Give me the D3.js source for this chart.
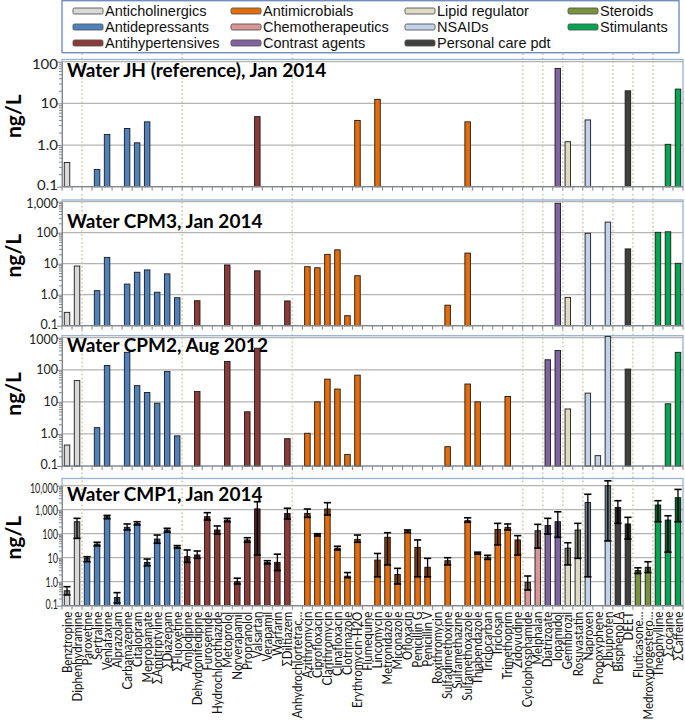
<!DOCTYPE html>
<html>
<head>
<meta charset="utf-8">
<script src="https://cdn.jsdelivr.net/npm/d3@7"></script>
<style>
  body { margin: 0; background: #fff; }
  svg { display: block; }
  .legend-text { font-family: "Liberation Sans", Arial, sans-serif; font-size: 14.5px; fill: #111; }
  .title { font-family: Lato, "Open Sans", sans-serif; font-weight: 700; font-size: 19px; fill: #000; }
  .ylabel { font-family: Lato, "Open Sans", sans-serif; font-weight: 700; font-size: 21px; fill: #000; }
  .tick-label { font-family: Lato, "Open Sans", sans-serif; font-size: 12.5px; fill: #222; }
  .x-label { font-family: Lato, "Open Sans", sans-serif; font-size: 12.5px; fill: #111; }
</style>
</head>
<body>
<svg width="685" height="721"></svg>
<script>
const compounds = ['Benztropine', 'Diphenhydramine', 'Paroxetine', 'Sertraline', 'Venlafaxine',
  'Alprazolam', 'Carbamazepine', 'Citalopram', 'Meprobamate', 'ΣAmitriptyline', 'ΣDiazepam',
  'ΣFluoxetine', 'Amlodipine', 'Dehydronifedipine', 'Furosemide', 'Hydrochlorothiazide',
  'Metoprolol', 'Norverapamil', 'Propranolol', 'Valsartan', 'Verapamil', 'Warfarin', 'ΣDiltiazem',
  'Anhydrochlortetrac…', 'Azithromycin', 'Ciprofloxacin', 'Clarithromycin', 'Clinafloxacin',
  'Clotrimazole', 'Erythromycin-H2O', 'Flumequine', 'Lincomycin', 'Metronidazole', 'Miconazole',
  'Ofloxacin', 'Penicillin G', 'Penicillin V', 'Roxithromycin', 'Sulfadimethoxine',
  'Sulfamethazine', 'Sulfamethoxazole', 'Thiabendazole', 'Triclocarban', 'Triclosan',
  'Trimethoprim', 'Zidovudine', 'Cyclophosphamide', 'Melphalan', 'Diatrizoate', 'Iopamidol',
  'Gemfibrozil', 'Rosuvastatin', 'Naproxen', 'Propoxyphene', 'ΣIbuprofen', 'Bisphenol A', 'DEET',
  'Fluticasone…', 'Medroxyprogestero…', 'Theophylline', 'Σcocaine', 'ΣCaffeine'];

const classNames = ['Anticholinergics', 'Antidepressants', 'Antihypertensives', 'Antimicrobials',
  'Chemotherapeutics', 'Contrast agents', 'Lipid regulator', 'NSAIDs', 'Personal care pdt',
  'Steroids', 'Stimulants'];
const classSizes = [2, 10, 11, 23, 2, 2, 2, 3, 2, 2, 3];
const classColors = ['#d9d9d9', '#4f81bd', '#8c3a37', '#e46c0a', '#d99694', '#8064a2',
  '#ddd9c3', '#c0d3ea', '#3f3f3f', '#77933c', '#00a650'];

// ng/L, one entry per compound, null = not detected
const jhValues = [
  0.38, null,
  null, 0.26, 1.8, null, 2.5, 1.13, 3.6, null, null, null,
  null, null, null, null, null, null, null, 4.8, null, null, null,
  null, null, null, null, null, null, 3.9, null, 12.5, null, null, null, null, null, null, null, null,
  3.6, null, null, null, null, null,
  null, null,
  null, 69,
  1.2, null,
  4.0, null, null,
  null, 20,
  null, null,
  null, 1.04, 22];

const cpm3Values = [
  0.27, 8.4,
  null, 1.35, 16, null, 2.2, 5.3, 6.3, 1.2, 4.7, 0.8,
  null, 0.64, null, null, 9.1, null, null, 5.9, null, null, 0.63,
  null, 8.0, 7.4, 20, 28, 0.21, 4.1, null, null, null, null, null, null, null, null,
  0.46, null, 22, null, null, null, null, null,
  null, null,
  null, 890,
  0.82, null,
  96, null, 220,
  null, 30,
  null, null,
  103, 107, 10.3];

const cpm2Values = [
  0.45, 46,
  null, 1.57, 136, null, 350, 32, 19.5, 9.1, 89, 0.87,
  null, 21, null, null, 182, null, 4.9, 470, null, null, 0.71,
  null, 1.05, 10, 51, 25, 0.23, 68, null, null, null, null, null, null, null, null,
  0.4, null, 36, 10, null, null, 14.7, null,
  null, null,
  205, 400,
  6.0, null,
  18.7, 0.21, 1100,
  null, 105,
  null, null,
  null, 8.7, 350];

const cmp1Values = [
  0.42, 316,
  9.4, 37, 510, 0.22, 185, 270, 6.4, 60, 143, 28,
  11, 13, 510, 143, 370, 1.0, 55, 1080, 6.4, 6.4, 700,
  null, 700, 94, 1070, 25, 1.7, 58, null, 8, 71, 2.0, 133, 27, 4.0, null,
  7.5, null, 350, 16, 10.5, 150, 185, 55,
  0.94, 133,
  220, 316,
  25, 143,
  2000, null, 10000,
  1250, 254,
  2.9, 4.0,
  1570, 370, 3160];

const cmp1Low = [
  0.28, 64,
  6.8, 31, 420, 0.13, 143, 230, 4.6, 40, 115, 25,
  6.4, 9.4, 370, 97, 316, 0.8, 44, 13, 5.5, 2.9, 410,
  null, 480, 80, 600, 21, 1.47, 44, null, 1.6, 5, 0.8, 110, 1.6, 1.6, null,
  5, null, 300, 14, 8.5, 34, 143, 13,
  0.45, 25,
  97, 71,
  5, 9.4,
  1.6, null, 50,
  270, 60,
  2.2, 2.4,
  316, 17, 316];

const cmp1High = [
  0.62, 437,
  11, 44, 580, 0.35, 254, 316, 8.8, 88, 168, 32,
  21, 19, 750, 210, 437, 1.4, 68, 2150, 7.5, 14, 1150,
  null, 1070, 100, 1960, 30, 2.4, 88, null, 15, 110, 3.6, 143, 55, 9.4, null,
  10, null, 460, 17, 12.6, 270, 254, 83,
  1.73, 245,
  437, 820,
  42, 270,
  4400, null, 16000,
  2370, 480,
  3.8, 6.8,
  2370, 560, 7000];

const jhTickLabels = ['0.1', '1.0', '10', '100'];
const cpm3TickLabels = ['0.1', '1.0', '10', '100', '1,000'];
const cpm2TickLabels = ['0.1', '1.0', '10', '100', '1000'];
const cmp1TickLabels = ['0.1', '1.0', '10', '100', '1,000', '10,000'];

const svg = d3.select('svg');
const plotLeft = 62;
const plotRight = 683;

// class of every compound, expanded from group sizes
const compoundClass = classSizes.flatMap((n, k) => d3.range(n).map(() => classNames[k]));
const colorScale = d3.scaleOrdinal().domain(classNames).range(classColors);

const xScale = d3.scaleBand()
  .domain(compounds)
  .range([plotLeft, plotRight])
  .paddingInner(0.45)
  .paddingOuter(0.225);
const step = xScale.step();
const groupEdges = d3.cumsum(classSizes).slice(0, -1);

const panels = [
  { title: 'Water JH (reference), Jan 2014', values: jhValues, ticks: jhTickLabels,
    top: 61.7, bottom: 186.7, boxTop: 59.5, titleY: 77, labelScale: 1.2 },
  { title: 'Water CPM3, Jan 2014', values: cpm3Values, ticks: cpm3TickLabels,
    top: 201.7, bottom: 325.7, boxTop: 200, titleY: 227.5, labelScale: 1.0 },
  { title: 'Water CPM2, Aug 2012', values: cpm2Values, ticks: cpm2TickLabels,
    top: 337.7, bottom: 466, boxTop: 335.7, titleY: 351.5, labelScale: 1.0 },
  { title: 'Water CMP1, Jan 2014', values: cmp1Values, ticks: cmp1TickLabels,
    low: cmp1Low, high: cmp1High,
    top: 485.7, bottom: 605.7, boxTop: 478.5, titleY: 500.5, labelScale: 0.72 }
];

const isDecade = v => Math.abs(Math.log10(v) - Math.round(Math.log10(v))) < 1e-9;

const drawPanel = p => {
  const maxValue = Math.pow(10, p.ticks.length - 2);
  const yScale = d3.scaleLog()
    .domain([0.1, maxValue])
    .range([p.bottom, p.top]);
  const g = svg.append('g');

  // gridlines
  g.selectAll('.grid').data(yScale.ticks().filter(v => isDecade(v) && v > 0.1))
    .enter().append('line')
      .attr('x1', plotLeft).attr('x2', plotRight)
      .attr('y1', d => yScale(d)).attr('y2', d => yScale(d))
      .attr('stroke', '#b3b3b3').attr('stroke-width', 1.2);

  // dotted group separators
  g.selectAll('.sep').data(groupEdges)
    .enter().append('line')
      .attr('x1', d => plotLeft + d * step).attr('x2', d => plotLeft + d * step)
      .attr('y1', p.boxTop - 6).attr('y2', p.bottom)
      .attr('stroke', '#cfc9a6').attr('stroke-width', 1.6)
      .attr('stroke-dasharray', '1.5,2.5');

  // frame
  g.append('rect')
    .attr('x', plotLeft).attr('y', p.boxTop)
    .attr('width', plotRight - plotLeft).attr('height', p.bottom - p.boxTop)
    .attr('fill', 'none').attr('stroke', '#95b3d7').attr('stroke-width', 1.3);

  g.append('text')
    .attr('class', 'title')
    .attr('x', 67).attr('y', p.titleY)
    .text(p.title);

  const rows = compounds.map((name, i) => ({
    name, value: p.values[i], cls: compoundClass[i],
    low: p.low ? p.low[i] : null, high: p.high ? p.high[i] : null
  })).filter(d => d.value != null);

  g.selectAll('.bar').data(rows)
    .enter().append('rect')
      .attr('x', d => xScale(d.name))
      .attr('width', xScale.bandwidth())
      .attr('y', d => yScale(d.value))
      .attr('height', d => p.bottom - yScale(d.value))
      .attr('fill', d => colorScale(d.cls))
      .attr('stroke', '#1a1a1a').attr('stroke-width', 0.9);

  if (p.low) {
    const err = rows.filter(d => d.low != null);
    const cx = d => xScale(d.name) + xScale.bandwidth() / 2;
    g.selectAll('.shade').data(err.filter(d => d.low < d.value))
      .enter().append('rect')
        .attr('x', d => xScale(d.name))
        .attr('width', xScale.bandwidth())
        .attr('y', d => yScale(d.value))
        .attr('height', d => yScale(d.low) - yScale(d.value))
        .attr('fill', 'rgba(0,0,0,0.42)');
    g.selectAll('.whisker').data(err)
      .enter().append('line')
        .attr('x1', cx).attr('x2', cx)
        .attr('y1', d => yScale(d.high)).attr('y2', d => yScale(d.low))
        .attr('stroke', '#000').attr('stroke-width', 1.3);
    ['high', 'low'].forEach(key => {
      g.selectAll('.cap-' + key).data(err)
        .enter().append('line')
          .attr('x1', d => cx(d) - 3.6).attr('x2', d => cx(d) + 3.6)
          .attr('y1', d => yScale(d[key])).attr('y2', d => yScale(d[key]))
          .attr('stroke', '#000').attr('stroke-width', 1.6);
    });
  }

  // y axis with log minor ticks
  const yAxis = d3.axisLeft(yScale)
    .tickValues(yScale.ticks())
    .tickFormat('')
    .tickSizeOuter(0);
  const yAxisG = g.append('g')
    .attr('transform', `translate(${plotLeft},0)`)
    .call(yAxis);
  yAxisG.select('.domain').attr('stroke', '#868686');
  yAxisG.selectAll('.tick line')
    .attr('stroke', '#868686')
    .attr('x2', d => isDecade(d) ? -5 : -3);

  // end labels nudged inwards a little so neighbouring panels don't collide
  const lastTick = p.ticks.length - 1;
  const nudge = i => (i === 0 ? -1.5 : i === lastTick ? 2 : 0);
  g.selectAll('.tick-label').data(p.ticks)
    .enter().append('text')
      .attr('class', 'tick-label')
      .attr('text-anchor', 'end')
      .attr('dominant-baseline', 'central')
      .attr('transform', (d, i) =>
        `translate(${plotLeft - 4},${yScale(Math.pow(10, i - 1)) + nudge(i)}) scale(${p.labelScale},1)`)
      .text(d => d);

  // bottom axis with category ticks
  g.append('line')
    .attr('x1', plotLeft).attr('x2', plotRight)
    .attr('y1', p.bottom).attr('y2', p.bottom)
    .attr('stroke', '#868686').attr('stroke-width', 1.2);
  g.selectAll('.xtick').data(d3.range(compounds.length + 1))
    .enter().append('line')
      .attr('x1', d => plotLeft + d * step).attr('x2', d => plotLeft + d * step)
      .attr('y1', p.bottom).attr('y2', p.bottom + 4)
      .attr('stroke', '#868686');

  svg.append('text')
    .attr('class', 'ylabel')
    .attr('text-anchor', 'middle')
    .attr('transform', `translate(21,${(p.top + p.bottom) / 2 - 8}) rotate(-90)`)
    .text('ng/L');
};

panels.forEach(drawPanel);

// compound names under the last panel
const lastBottom = panels[panels.length - 1].bottom;
svg.append('g').selectAll('text').data(compounds)
  .enter().append('text')
    .attr('class', 'x-label')
    .attr('text-anchor', 'end')
    .attr('dominant-baseline', 'central')
    .attr('transform', d =>
      `translate(${xScale(d) + xScale.bandwidth() / 2},${lastBottom + 6}) rotate(-90) scale(0.92,1)`)
    .text(d => d);

// legend
const legendG = svg.append('g');
legendG.append('rect')
  .attr('x', 62).attr('y', 0.7)
  .attr('width', 617).attr('height', 52)
  .attr('fill', '#fff').attr('stroke', '#6f8fbf').attr('stroke-width', 1.4);
const legendCols = [73, 231, 405, 568];
const legendItems = legendG.selectAll('.item').data(classNames)
  .enter().append('g')
    .attr('transform', (d, i) => `translate(${legendCols[Math.floor(i / 3)]},${11 + (i % 3) * 16})`);
legendItems.append('rect')
  .attr('x', 0).attr('y', -3)
  .attr('width', 30).attr('height', 6)
  .attr('rx', 1.5)
  .attr('fill', d => colorScale(d))
  .attr('stroke', '#555').attr('stroke-width', 0.9);
legendItems.append('text')
  .attr('class', 'legend-text')
  .attr('x', 32)
  .attr('dominant-baseline', 'central')
  .text(d => d);
</script>
</body>
</html>
